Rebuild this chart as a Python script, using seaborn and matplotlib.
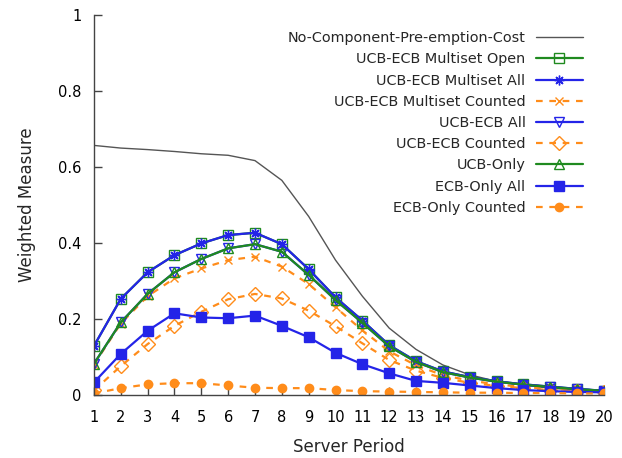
import numpy as np
import pandas as pd
import matplotlib
matplotlib.use("Agg")
import matplotlib.pyplot as plt
import seaborn as sns

# Server periods (x axis)
periods = list(range(1, 21))

no_component_cost = [0.657, 0.650, 0.646, 0.641, 0.635, 0.631, 0.617, 0.565, 0.470, 0.355,
                     0.260, 0.176, 0.120, 0.079, 0.053, 0.036, 0.026, 0.018, 0.013, 0.010]
multiset_open = [0.129, 0.253, 0.323, 0.368, 0.399, 0.421, 0.427, 0.397, 0.331, 0.257,
                 0.196, 0.131, 0.089, 0.062, 0.047, 0.036, 0.028, 0.022, 0.016, 0.011]
multiset_all = [0.129, 0.253, 0.323, 0.368, 0.399, 0.421, 0.427, 0.397, 0.331, 0.257,
                0.196, 0.131, 0.089, 0.062, 0.047, 0.036, 0.028, 0.022, 0.016, 0.011]
multiset_counted = [0.080, 0.188, 0.260, 0.307, 0.333, 0.355, 0.364, 0.338, 0.292, 0.231,
                    0.170, 0.115, 0.078, 0.052, 0.038, 0.028, 0.021, 0.016, 0.012, 0.009]
ucb_ecb_all = [0.082, 0.191, 0.266, 0.323, 0.358, 0.386, 0.397, 0.377, 0.316, 0.250,
               0.190, 0.128, 0.087, 0.060, 0.046, 0.035, 0.027, 0.021, 0.015, 0.011]
ucb_ecb_counted = [0.012, 0.076, 0.134, 0.182, 0.219, 0.252, 0.266, 0.254, 0.222, 0.181,
                   0.136, 0.092, 0.064, 0.045, 0.032, 0.024, 0.018, 0.013, 0.010, 0.008]
ucb_only = [0.082, 0.191, 0.266, 0.323, 0.358, 0.386, 0.397, 0.377, 0.316, 0.250,
            0.190, 0.128, 0.087, 0.060, 0.046, 0.035, 0.027, 0.021, 0.015, 0.011]
ecb_only_all = [0.033, 0.108, 0.169, 0.215, 0.204, 0.202, 0.209, 0.182, 0.152, 0.111,
                0.081, 0.057, 0.037, 0.032, 0.025, 0.018, 0.013, 0.010, 0.008, 0.007]
ecb_only_counted = [0.004, 0.018, 0.028, 0.031, 0.031, 0.025, 0.019, 0.018, 0.018, 0.013,
                    0.010, 0.009, 0.008, 0.007, 0.006, 0.006, 0.005, 0.005, 0.004, 0.004]

GREEN = "#1f8a1f"
BLUE = "#2424e8"
ORANGE = "#ff8c1a"
GRAY = "#555555"

# (label, values, color, marker, linestyle, filled, marker size)
series = [
    ("No-Component-Pre-emption-Cost", no_component_cost, GRAY, None, "-", True, 0),
    ("UCB-ECB Multiset Open", multiset_open, GREEN, "s", "-", False, 6.5),
    ("UCB-ECB Multiset All", multiset_all, BLUE, (8, 2, 0), "-", False, 7),
    ("UCB-ECB Multiset Counted", multiset_counted, ORANGE, "x", (0, (3, 3)), False, 6),
    ("UCB-ECB All", ucb_ecb_all, BLUE, "v", "-", False, 7),
    ("UCB-ECB Counted", ucb_ecb_counted, ORANGE, "D", (0, (3, 3)), False, 7),
    ("UCB-Only", ucb_only, GREEN, "^", "-", False, 7),
    ("ECB-Only All", ecb_only_all, BLUE, "s", "-", True, 6.5),
    ("ECB-Only Counted", ecb_only_counted, ORANGE, "o", (0, (3, 3)), True, 6),
]

sns.set_style("ticks")
plt.rcParams["font.family"] = ["DejaVu Sans"]

fig = plt.figure(figsize=(6.22, 4.58), dpi=100)
ax = fig.add_axes([0.151, 0.1376, 0.82, 0.8294])

for label, vals, color, marker, ls, filled, ms in series:
    kw = dict(color=color, linestyle=ls, linewidth=1.6 if marker else 1.0, label=label)
    if marker is not None:
        kw.update(marker=marker, markersize=ms, markeredgewidth=1.0,
                  markerfacecolor=color if filled else "none", markeredgecolor=color)
    sns.lineplot(x=periods, y=vals, ax=ax, **kw)

ax.set_xlim(1, 20)
ax.set_ylim(0, 1)
ax.set_xticks(periods)
ax.set_yticks([0, 0.2, 0.4, 0.6, 0.8, 1.0])
ax.set_yticklabels(["0", "0.2", "0.4", "0.6", "0.8", "1"])
ax.tick_params(direction="in", length=6, width=1, colors="#444444", labelcolor="black",
               labelsize=10.5)
ax.tick_params(axis="x", pad=11)
ax.tick_params(axis="y", pad=9)
for side in ["top", "right"]:
    ax.spines[side].set_visible(False)
for side in ["left", "bottom"]:
    ax.spines[side].set_color("#444444")
    ax.spines[side].set_linewidth(1.0)

ax.set_xlabel("Server Period", fontsize=12, labelpad=9)
ax.set_ylabel("Weighted Measure", fontsize=12, labelpad=16)

ax.legend(loc="upper right", bbox_to_anchor=(0.985, 0.992), frameon=False, markerfirst=False,
          fontsize=10.4, handlelength=3.3, labelspacing=0.5, handletextpad=0.7)

fig.savefig("out.png", dpi=100)
